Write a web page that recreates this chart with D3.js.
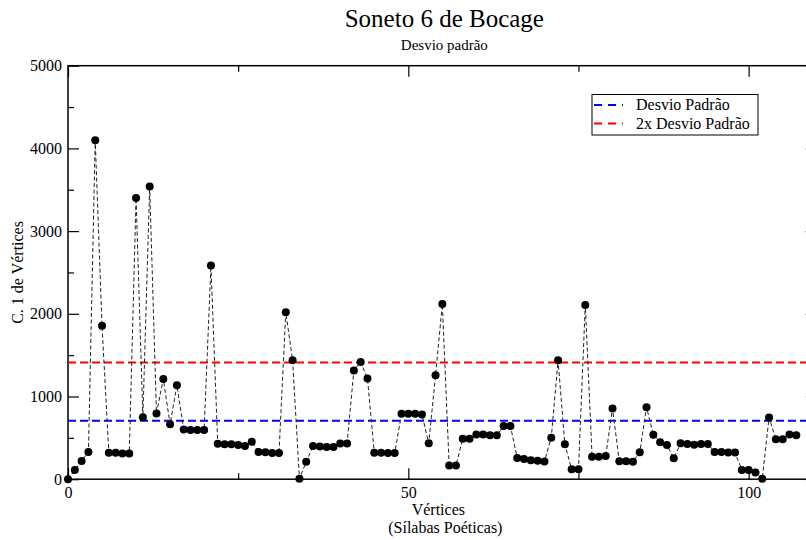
<!DOCTYPE html>
<html>
<head>
<meta charset="utf-8">
<script src="https://cdn.jsdelivr.net/npm/d3@7"></script>
<style>
  body { margin: 0; background: #fff; }
  svg text { font-family: "Liberation Serif", "DejaVu Serif", serif; fill: #000; }
</style>
</head>
<body>
<div id="chart"></div>
<script>
// valores (C. 1 de Vertices por vertice)
var values = [0, 110, 220, 330, 4100, 1855, 320, 320, 310, 310,
    3400, 750, 3540, 795, 1213, 663, 1136, 602, 595, 595,
    595, 2583, 430, 422, 422, 413, 400, 454, 330, 325,
    318, 318, 2020, 1438, 5, 210, 400, 395, 390, 390,
    433, 433, 1313, 1418, 1217, 320, 320, 318, 318, 790,
    790, 790, 783, 434, 1257, 2117, 165, 165, 490, 490,
    542, 542, 530, 530, 643, 643, 257, 245, 230, 223,
    215, 502, 1438, 422, 120, 120, 2105, 270, 270, 282,
    855, 217, 217, 210, 325, 871, 538, 446, 414, 253,
    434, 426, 418, 426, 426, 330, 330, 322, 322, 112,
    112, 80, 5, 747, 482, 482, 542, 530];
var desvio = 706;
var refLines = [
    {label: "Desvio Padrão", value: desvio, color: "#0000ff"},
    {label: "2x Desvio Padrão", value: 2 * desvio, color: "#ff0000"}
];
var xMajor = [0, 50, 100];
var xMinor = [25, 75];
var yMajor = [0, 1000, 2000, 3000, 4000, 5000];
var yMinor = [500, 1500, 2500, 3500, 4500];

function draw_chart() {
    var margin = {top: 65.7, left: 68},
        width = 748.7,
        height = 413.5;

    var x = d3.scaleLinear().domain([0, 110]).range([0, width]);
    var y = d3.scaleLinear().domain([0, 5000]).range([height, 0]);

    var svg = d3.select("#chart")
        .append("svg")
        .attr("width", 806)
        .attr("height", 540);

    svg.append("text")
        .attr("x", margin.left + x(55) + 2)
        .attr("y", 27)
        .attr("text-anchor", "middle")
        .style("font-size", "25px")
        .text("Soneto 6 de Bocage");
    svg.append("text")
        .attr("x", margin.left + x(55) + 2)
        .attr("y", 50)
        .attr("text-anchor", "middle")
        .style("font-size", "15px")
        .text("Desvio padrão");

    var g = svg.append("g")
        .attr("transform", "translate(" + margin.left + "," + margin.top + ")");

    // eixos (ticks para dentro, como no xmgrace)
    function axis(a, vals, size, labels) {
        var ax = a.tickValues(vals).tickSizeInner(-size).tickSizeOuter(0);
        if (!labels) ax.tickFormat("");
        return ax;
    }
    var fmt = d3.format("d");
    g.append("g").attr("transform", "translate(0," + height + ")")
        .call(axis(d3.axisBottom(x), xMajor, 11, true).tickFormat(fmt).tickPadding(7));
    g.append("g").attr("transform", "translate(0," + height + ")")
        .call(axis(d3.axisBottom(x), xMinor, 6, false));
    g.append("g").call(axis(d3.axisTop(x), xMajor.concat([110]), 11, false));
    g.append("g").call(axis(d3.axisTop(x), xMinor, 6, false));
    g.append("g")
        .call(axis(d3.axisLeft(y), yMajor, 11, true).tickFormat(fmt).tickPadding(6));
    g.append("g").call(axis(d3.axisLeft(y), yMinor, 6, false));
    g.append("g").attr("transform", "translate(" + width + ",0)")
        .call(axis(d3.axisRight(y), yMajor, 11, false));
    g.append("g").attr("transform", "translate(" + width + ",0)")
        .call(axis(d3.axisRight(y), yMinor, 6, false));

    g.selectAll(".domain").remove();
    g.selectAll(".tick line").attr("stroke", "#000").attr("stroke-width", 1.2);
    g.selectAll(".tick text").style("font-size", "16px").attr("fill", "#000");

    g.append("rect")
        .attr("width", width)
        .attr("height", height)
        .attr("fill", "none")
        .attr("stroke", "#000")
        .attr("stroke-width", 1.5);

    // linhas de referencia
    g.selectAll(".ref")
        .data(refLines)
        .enter().append("line")
        .attr("class", "ref")
        .attr("x1", 0).attr("x2", width)
        .attr("y1", function(d) { return y(d.value); })
        .attr("y2", function(d) { return y(d.value); })
        .attr("stroke", function(d) { return d.color; })
        .attr("stroke-width", 2)
        .attr("stroke-dasharray", "8,4");

    var valueline = d3.line()
        .x(function(d, i) { return x(i); })
        .y(function(d) { return y(d); });

    g.append("path")
        .datum(values)
        .attr("d", valueline)
        .attr("fill", "none")
        .attr("stroke", "#222")
        .attr("stroke-width", 1)
        .attr("stroke-dasharray", "4,2.5");

    g.selectAll(".pt")
        .data(values)
        .enter().append("circle")
        .attr("class", "pt")
        .attr("cx", function(d, i) { return x(i); })
        .attr("cy", function(d) { return y(d); })
        .attr("r", 4)
        .attr("fill", "#000");

    // legenda
    var leg = svg.append("g").attr("transform", "translate(592,94.5)");
    leg.append("rect")
        .attr("width", 166).attr("height", 40.5)
        .attr("fill", "#fff").attr("stroke", "#000").attr("stroke-width", 1);
    var item = leg.selectAll(".item")
        .data(refLines)
        .enter().append("g")
        .attr("transform", function(d, i) { return "translate(0," + (10.5 + i * 18.5) + ")"; });
    item.append("line")
        .attr("x1", 2).attr("x2", 31)
        .attr("stroke", function(d) { return d.color; })
        .attr("stroke-width", 2)
        .attr("stroke-dasharray", "8,6");
    item.append("text")
        .attr("x", 44).attr("y", 5)
        .style("font-size", "16px")
        .text(function(d) { return d.label; });

    // titulos dos eixos
    svg.append("text")
        .attr("x", margin.left + x(55) - 4)
        .attr("y", 515)
        .attr("text-anchor", "middle")
        .style("font-size", "16px")
        .text("Vértices");
    svg.append("text")
        .attr("x", margin.left + x(55) + 3)
        .attr("y", 533)
        .attr("text-anchor", "middle")
        .style("font-size", "16px")
        .text("(Sílabas Poéticas)");
    svg.append("text")
        .attr("transform", "translate(23," + (margin.top + height / 2) + ") rotate(-90)")
        .attr("text-anchor", "middle")
        .style("font-size", "16px")
        .text("C. 1 de Vértices");
}

draw_chart();
</script>
</body>
</html>
